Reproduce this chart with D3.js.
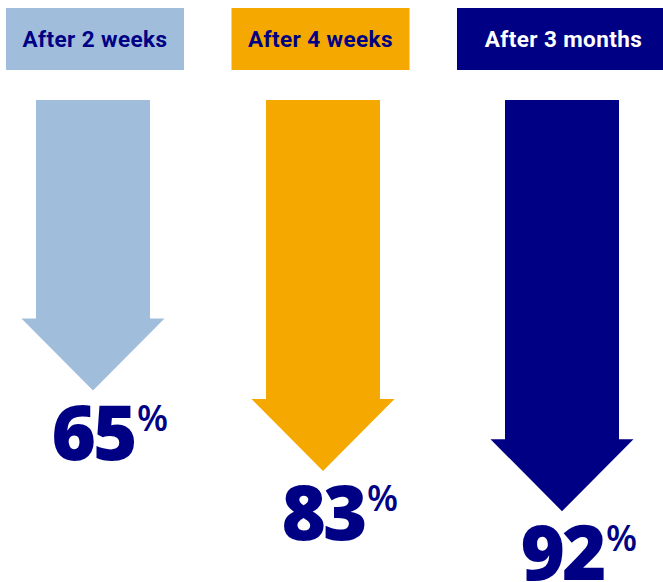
<!DOCTYPE html>
<html><head><meta charset="utf-8">
<script src="https://cdn.jsdelivr.net/npm/d3@7"></script>
<style>html,body{margin:0;padding:0;background:#fff;overflow:hidden}</style>
</head><body>
<svg id="c" width="663" height="582"></svg>
<script>
// ---- data ----
const categories = ["After 2 weeks", "After 4 weeks", "After 3 months"];
const values = [65, 83, 92];
const units = ["%", "%", "%"];

// ---- styles / layout ----
const fills = ["#A0BEDB", "#F5A800", "#000085"];
const labelColors = ["#000085", "#000085", "#FFFFFF"];
const navy = "#000085";
const W = 663, H = 582;
const boxWidths = [178, 178, 213];
const arrowNudge = [0, -4.5, 0];

const svg = d3.select("#c");
const x = d3.scalePoint().domain(categories).range([93, 562]);
const xb = d3.scalePoint().domain(categories).range([6, 457]);
const y = d3.scaleLinear().domain([0, 100]).range([100, 547]);
const shaftHalf = 57, headHalf = 71.5, headH = 72;

const rows = categories.map((c, i) => ({c, v: values[i], u: units[i], i}));
const cx = d => x(d.c) + arrowNudge[d.i];

const g = svg.selectAll("g.col").data(rows).join("g").attr("class", "col");
// label boxes
g.append("rect")
  .attr("x", d => xb(d.c))
  .attr("y", 8)
  .attr("width", d => boxWidths[d.i])
  .attr("height", 62)
  .attr("fill", d => fills[d.i]);
g.append("text")
  .attr("x", d => xb(d.c) + boxWidths[d.i] / 2)
  .attr("y", 47)
  .attr("text-anchor", "middle")
  .attr("font-family", "Roboto, sans-serif")
  .attr("font-weight", 700)
  .attr("font-size", 22.5)
  .attr("letter-spacing", 0.4)
  .attr("fill", d => labelColors[d.i])
  .text(d => d.c);

// arrows
g.append("path")
  .attr("fill", d => fills[d.i])
  .attr("d", d => {
    const c = cx(d), top = y(0), tip = y(d.v), hb = tip - headH;
    return `M${c - shaftHalf},${top}L${c + shaftHalf},${top}L${c + shaftHalf},${hb}` +
      `L${c + headHalf},${hb}L${c},${tip}L${c - headHalf},${hb}L${c - shaftHalf},${hb}Z`;
  });

// value labels
const num = g.append("text")
  .attr("x", d => cx(d))
  .attr("y", d => y(d.v) + 69)
  .attr("text-anchor", "middle")
  .attr("font-family", "'Open Sans', sans-serif")
  .attr("font-weight", 800)
  .attr("font-style", "normal")
  .attr("font-size", 76)
  .attr("letter-spacing", -3)
  .attr("fill", navy)
  .text(d => d.v);
num.each(function(d) {
  const bb = this.getBBox();
  d3.select(this.parentNode).append("text")
    .attr("x", bb.x + bb.width + 2)
    .attr("y", y(d.v) + 13 + 27)
    .attr("font-family", "'Open Sans', sans-serif")
    .attr("font-weight", 600)
    .attr("font-style", "normal")
    .attr("font-size", 36)
    .attr("fill", navy)
    .text(d.u);
});
</script>
</body></html>
